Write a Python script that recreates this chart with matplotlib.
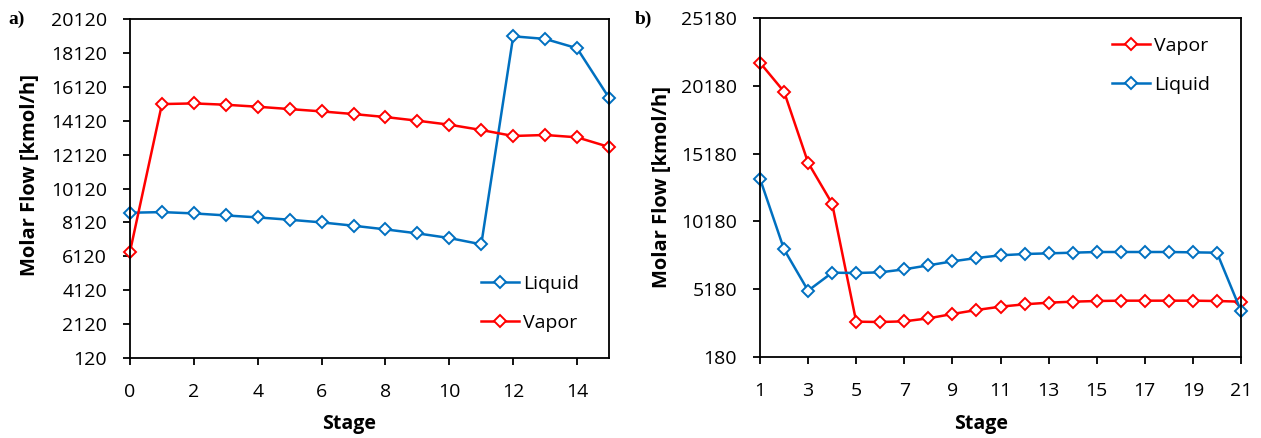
import matplotlib
matplotlib.use("Agg")
import matplotlib.pyplot as plt

# Panel a data
stages_a = list(range(0, 16))
liquid_a = [8689, 8728, 8650, 8532, 8414, 8277, 8120, 7924, 7708, 7473, 7198, 6826,
            19100, 18944, 18395, 15473]
vapor_a = [6395, 15101, 15140, 15061, 14944, 14806, 14669, 14512, 14336, 14120, 13885,
           13571, 13218, 13277, 13140, 12571]
yticks_a = list(range(120, 20121, 2000))
xticks_a = list(range(0, 16, 2))

# Panel b data
stages_b = list(range(1, 22))
vapor_b = [21885, 19747, 14510, 11487, 2786, 2761, 2810, 3031, 3351, 3646, 3892, 4064,
           4187, 4260, 4309, 4334, 4334, 4334, 4334, 4309, 4260]
liquid_b = [13330, 8119, 5071, 6399, 6374, 6423, 6645, 6940, 7234, 7480, 7677, 7775,
            7824, 7873, 7923, 7923, 7923, 7923, 7898, 7873, 3572]
yticks_b = list(range(180, 25181, 5000))
xticks_b = list(range(1, 22, 2))

BLUE = "#0070C0"
RED = "#FF0000"
FONT = "Open Sans"

W, H = 1261, 438
fig = plt.figure(figsize=(W / 100, H / 100), dpi=100)
ax_a = fig.add_axes([130 / W, (H - 358) / H, 479 / W, 339 / H])
ax_b = fig.add_axes([760 / W, (H - 357) / H, 481 / W, 339 / H])

mk = dict(marker="D", markersize=6.5, markerfacecolor="white", markeredgewidth=1.4,
          linewidth=1.8)


def style(ax, xt, yt, xlim, ylim, ylab_xy, xlab_xy):
    ax.set_xlim(*xlim)
    ax.set_ylim(*ylim)
    ax.set_xticks(xt)
    ax.set_yticks(yt)
    ax.tick_params(direction="out", length=5, width=1.3, labelsize=14,
                   top=False, right=False)
    ax.tick_params(axis="x", pad=13)
    ax.tick_params(axis="y", pad=11.5)
    for lab in ax.get_xticklabels() + ax.get_yticklabels():
        lab.set_fontfamily(FONT)
    for s in ax.spines.values():
        s.set_linewidth(1.3)
    ax.set_xlabel("Stage", fontsize=14, fontweight="bold", family=FONT, va="center")
    ax.set_ylabel("Molar Flow [kmol/h]", fontsize=14.5, fontweight="bold", family=FONT,
                  va="center")
    ax.yaxis.set_label_coords(*ylab_xy)
    ax.xaxis.set_label_coords(*xlab_xy)


def pxfig(x, y):
    return (x / W, 1 - y / H)


leg_kw = dict(loc="upper left", bbox_transform=fig.transFigure, frameon=False,
              borderpad=0, borderaxespad=0, prop={"family": FONT, "size": 14},
              handlelength=1.95, handletextpad=0.2, labelspacing=1.07)

ax_a.plot(stages_a, liquid_a, color=BLUE, label="Liquid", clip_on=False, **mk)
ax_a.plot(stages_a, vapor_a, color=RED, label="Vapor", clip_on=False, **mk)
style(ax_a, xticks_a, yticks_a, (0, 15), (120, 20120),
      ((30 - 130) / 479, (358 - 175) / 339), ((349 - 130) / 479, (358 - 424) / 339))
ax_a.legend(bbox_to_anchor=pxfig(481, 275), **leg_kw)

ax_b.plot(stages_b, vapor_b, color=RED, label="Vapor", clip_on=False, **mk)
ax_b.plot(stages_b, liquid_b, color=BLUE, label="Liquid", clip_on=False, **mk)
style(ax_b, xticks_b, yticks_b, (1, 21), (180, 25180),
      ((662 - 760) / 481, (357 - 187) / 339), ((981 - 760) / 481, (357 - 424) / 339))
ax_b.legend(bbox_to_anchor=pxfig(1112, 37), **leg_kw)

fig.text(8 / W, 1 - 19 / H, "a)", fontsize=14, fontweight="bold",
         family="Liberation Serif", va="center")
fig.text(635 / W, 1 - 19 / H, "b)", fontsize=14, fontweight="bold",
         family="Liberation Serif", va="center")

fig.savefig("out.png", dpi=100)
